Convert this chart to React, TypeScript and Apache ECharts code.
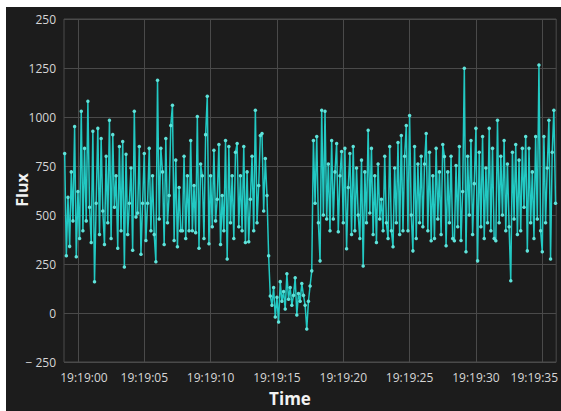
import React, { useEffect, useRef } from "react";
import * as echarts from "echarts";

// Sampling grid (seconds after 19:19:00)
const T_START = -1.0;
const T_STEP = 0.125;

// Flux samples, 8 per second, starting at 19:18:59
const FLUX: number[] = [
  // 19:18:59
  814, 292, 590, 340, 720, 470, 952, 287,
  // 19:19:00
  620, 380, 1029, 420, 840, 470, 1080, 540,
  // 01
  360, 927, 159, 560, 942, 400, 890, 520,
  // 02
  350, 800, 460, 983, 380, 910, 540, 700,
  // 03
  330, 850, 420, 875, 235, 810, 400, 560,
  // 04
  740, 320, 1029, 490, 510, 850, 300, 560,
  // 05
  814, 370, 560, 840, 420, 700, 400, 261,
  // 06
  1188, 480, 840, 720, 350, 890, 460, 600,
  // 07
  957, 1060, 370, 780, 338, 640, 420, 420,
  // 08
  800, 380, 700, 420, 880, 420, 650, 410,
  // 09
  1003, 330, 760, 700, 380, 910, 1106, 353,
  // 10
  700, 440, 830, 470, 580, 860, 350, 600,
  // 11
  420, 880, 276, 850, 460, 700, 380, 820,
  // 12
  865, 440, 700, 420, 850, 360, 720, 363,
  // 13
  580, 800, 420, 1034, 460, 650, 906, 916,
  // 14
  520, 788, 599, 292, 87, 40, 130, -20,
  // 15
  80, -46, 160, 60, 110, 20, 200, 70,
  // 16
  130, 40, 90, 180, -10, 100, 60, 150,
  // 17
  90, 40, -82, 60, 138, 215, 880, 560,
  // 18
  900, 460, 266, 1034, 500, 1029, 480, 760,
  // 19
  420, 880, 480, 720, 865, 415, 700, 824,
  // 20
  460, 840, 328, 640, 814, 400, 850, 420,
  // 21
  740, 500, 380, 780, 240, 720, 460, 932,
  // 22
  510, 840, 400, 700, 360, 760, 480, 580,
  // 23
  420, 800, 460, 380, 850, 420, 338, 740,
  // 24
  460, 870, 400, 906, 420, 800, 957, 420,
  // 25
  1008, 500, 317, 850, 380, 760, 460, 800,
  // 26
  440, 760, 916, 420, 820, 369, 700, 380,
  // 27
  840, 480, 720, 400, 860, 799, 343, 720,
  // 28
  460, 800, 380, 369, 753, 440, 850, 370,
  // 29
  620, 1249, 312, 800, 500, 880, 400, 660,
  // 30
  942, 266, 820, 440, 900, 380, 740, 460,
  // 31
  942, 420, 840, 380, 369, 983, 460, 800,
  // 32
  500, 880, 420, 760, 440, 164, 820, 480,
  // 33
  860, 400, 780, 420, 840, 540, 901, 317,
  // 34
  840, 460, 720, 380, 900, 480, 1265, 420,
  // 35
  312, 900, 460, 740, 983, 276, 820, 1034,
  // 36
  560,
];

const X_TICKS = [0, 5, 10, 15, 20, 25, 30, 35];
const X_LABELS = ["19:19:00", "19:19:05", "19:19:10", "19:19:15", "19:19:20", "19:19:25", "19:19:30", "19:19:35"];
const Y_LABELS: Record<number, string> = {
  [-250]: "\u2212 250",
  0: "0",
  250: "250",
  500: "500",
  750: "750",
  1000: "1000",
  1250: "1250",
  1500: "250",
};

const FONT = "'Open Sans', 'Noto Sans', sans-serif";

export default function App() {
  const ref = useRef<HTMLDivElement>(null);
  useEffect(() => {
    if (!ref.current) return;
    const chart = echarts.init(ref.current, undefined, { renderer: "svg" });
    const data = FLUX.map((v, i) => [T_START + i * T_STEP, v]);
    chart.setOption({
      animation: false,
      backgroundColor: "#1c1c1c",
      grid: {
        left: 58,
        right: 4,
        top: 12,
        bottom: 49,
        show: true,
        borderColor: "#4a4a4a",
        borderWidth: 1,
      },
      xAxis: {
        type: "value",
        min: -1.05,
        max: 36.05,
        axisLine: { show: false },
        axisTick: { show: false, customValues: X_TICKS },
        splitLine: { show: true, lineStyle: { color: "#4a4a4a", width: 1 } },
        axisLabel: {
          customValues: X_TICKS,
          margin: 9,
          color: "#d6d6d6",
          fontFamily: FONT,
          fontSize: 12,
          formatter: (v: number) => {
            const idx = X_TICKS.indexOf(Math.round(v));
            const s = idx >= 0 ? X_LABELS[idx] : "";
            if (idx === 0) return "{first|" + s + "}";
            if (idx === X_TICKS.length - 1) return "{last|" + s + "}";
            return s;
          },
          rich: {
            first: { padding: [0, 0, 0, 12], color: "#d6d6d6", fontFamily: FONT, fontSize: 12 },
            last: { padding: [0, 16, 0, 0], color: "#d6d6d6", fontFamily: FONT, fontSize: 12 },
          },
        },
      },
      yAxis: {
        type: "value",
        min: -250,
        max: 1500,
        interval: 250,
        axisLine: { show: false },
        axisTick: { show: false },
        splitLine: { show: true, lineStyle: { color: "#4a4a4a", width: 1 } },
        axisLabel: {
          margin: 8,
          color: "#d6d6d6",
          fontFamily: FONT,
          fontSize: 12,
          formatter: (v: number) => Y_LABELS[v] ?? String(v),
        },
      },
      graphic: [
        {
          type: "text",
          x: 284,
          y: 391,
          style: {
            text: "Time",
            fill: "#f2f2f2",
            font: "bold 17px " + FONT,
            textAlign: "center",
            textVerticalAlign: "middle",
          },
        },
        {
          type: "text",
          x: 16,
          y: 183,
          rotation: Math.PI / 2,
          style: {
            text: "Flux",
            fill: "#f2f2f2",
            font: "bold 16px " + FONT,
            textAlign: "center",
            textVerticalAlign: "middle",
          },
        },
      ],
      series: [
        {
          type: "line",
          data,
          showSymbol: true,
          symbol: "circle",
          symbolSize: 3.5,
          lineStyle: { color: "#22c9c3", width: 1.5 },
          itemStyle: { color: "#5fe3da", borderWidth: 0 },
          emphasis: { disabled: true },
        },
      ],
    });
    return () => chart.dispose();
  }, []);
  return (
    <div
      ref={ref}
      style={{ position: "absolute", left: 6, top: 7, width: 555, height: 404 }}
    />
  );
}
